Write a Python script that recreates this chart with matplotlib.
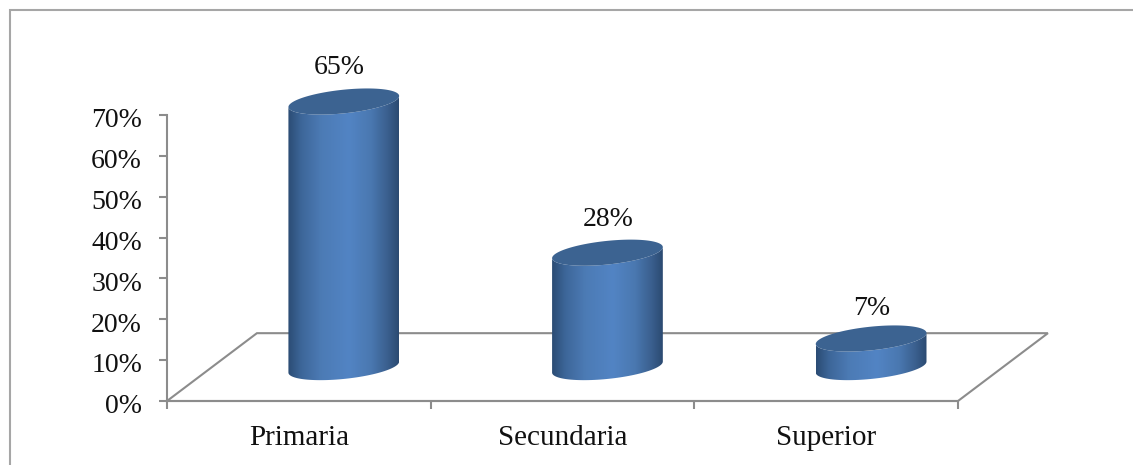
import numpy as np
from matplotlib import pyplot as plt
from matplotlib.colors import LinearSegmentedColormap
from matplotlib.patches import PathPatch, Polygon, Rectangle
from matplotlib.path import Path
from matplotlib.transforms import ScaledTranslation

categories = ['Primaria', 'Secundaria', 'Superior']
values = [65, 28, 7]
value_labels = ['65%', '28%', '7%']
y_ticks = [0, 10, 20, 30, 40, 50, 60, 70]
y_tick_labels = ['0%', '10%', '20%', '30%', '40%', '50%', '60%', '70%']

W, H = 1133, 465
GREY = '#8c8c8c'
FONT = 'Liberation Serif'

# floor depth and cylinder shape, in axis units
DEPTH_X, DEPTH_Y = 0.341, 16.6
BAR_HALF = 0.21
ELL_B, ELL_TILT = 2.9, 1.35

side_cmap = LinearSegmentedColormap.from_list(
    'side', [(0, '#2b4c74'), (0.12, '#3d6699'), (0.3, '#4c7bb5'),
             (0.55, '#5284c4'), (0.75, '#4a78b0'), (0.9, '#3a5f8e'),
             (1, '#2b4a71')])


def ellipse_pts(cx, cy, t):
    x = cx + BAR_HALF * np.cos(t)
    y = cy + ELL_B * np.sin(t) + ELL_TILT * np.cos(t)
    return np.column_stack((x, y))


def draw_cylinder(ax, cx, base, height):
    top = base + height
    # front of the base, then up the left side and along the top front edge
    lower = ellipse_pts(cx, base, np.linspace(0, -np.pi, 60))
    upper = ellipse_pts(cx, top, np.linspace(-np.pi, 0, 60))
    body = np.vstack((lower, upper, lower[:1]))
    img = ax.imshow(np.linspace(0, 1, 256).reshape(1, -1), cmap=side_cmap,
                    extent=(cx - BAR_HALF, cx + BAR_HALF, base - 5, top + 5),
                    aspect='auto', zorder=3, interpolation='bilinear')
    patch = PathPatch(Path(body), fc='none', ec='none', transform=ax.transData)
    ax.add_patch(patch)
    img.set_clip_box(fig.bbox)
    img.set_clip_path(patch)
    lid = Polygon(ellipse_pts(cx, top, np.linspace(0, 2 * np.pi, 120)),
                  closed=True, fc='#3c6391', ec='none', zorder=4,
                  clip_on=False)
    ax.add_patch(lid)


fig = plt.figure(figsize=(W / 100, H / 100), dpi=100)
# outer frame runs off the right and bottom of the picture
fig.add_artist(Rectangle((9.5 / W, -0.05), 1.05, 1 + 0.05 - 10.5 / H,
                         transform=fig.transFigure, fc='none', ec='#a6a6a6',
                         lw=1.5))

ax = fig.add_axes([167 / W, 1 - 401 / H, 791 / W, 286 / H])

floor = Polygon([(0, 0), (DEPTH_X, DEPTH_Y), (3 + DEPTH_X, DEPTH_Y), (3, 0)],
                closed=True, fc='white', ec=GREY, lw=1.5, clip_on=False,
                zorder=1)
ax.add_patch(floor)

label_dx = [-0.016, 0.002, 0.002]
label_dy = [8.4, 8.2, 7.4]
for i, val in enumerate(values):
    cx = i + 0.5 + DEPTH_X / 2
    base = DEPTH_Y / 2
    draw_cylinder(ax, cx, base, val)
    ax.text(cx + label_dx[i], base + val + label_dy[i], value_labels[i],
            ha='center', va='center', fontsize=20, family=FONT,
            color='#111111', clip_on=False, zorder=5)

ax.set_xlim(0, 3)
ax.set_ylim(0, 70)
ax.patch.set_alpha(0)
ax.spines['top'].set_visible(False)
ax.spines['right'].set_visible(False)
for side in ['left', 'bottom']:
    ax.spines[side].set_color(GREY)
    ax.spines[side].set_linewidth(1.5)

ax.set_yticks(y_ticks)
ax.set_yticklabels(y_tick_labels, fontsize=20, family=FONT, color='#111111')
ax.set_xticks([0, 1, 2, 3])
ax.set_xticklabels([])
ax.set_xticks([0.5, 1.5, 2.5], minor=True)
ax.set_xticklabels(categories, minor=True, fontsize=21, family=FONT,
                   color='#111111')
ax.tick_params(axis='y', length=6, width=1.5, color=GREY, pad=12)
ax.tick_params(axis='x', which='major', length=6, width=1.5, color=GREY)
ax.tick_params(axis='x', which='minor', length=0, pad=17)

# tick labels sit a little under the tick marks
shift = ScaledTranslation(0, -2 / 72, fig.dpi_scale_trans)
for lab in ax.get_yticklabels():
    lab.set_transform(lab.get_transform() + shift)

fig.savefig('out.png', dpi=100)
